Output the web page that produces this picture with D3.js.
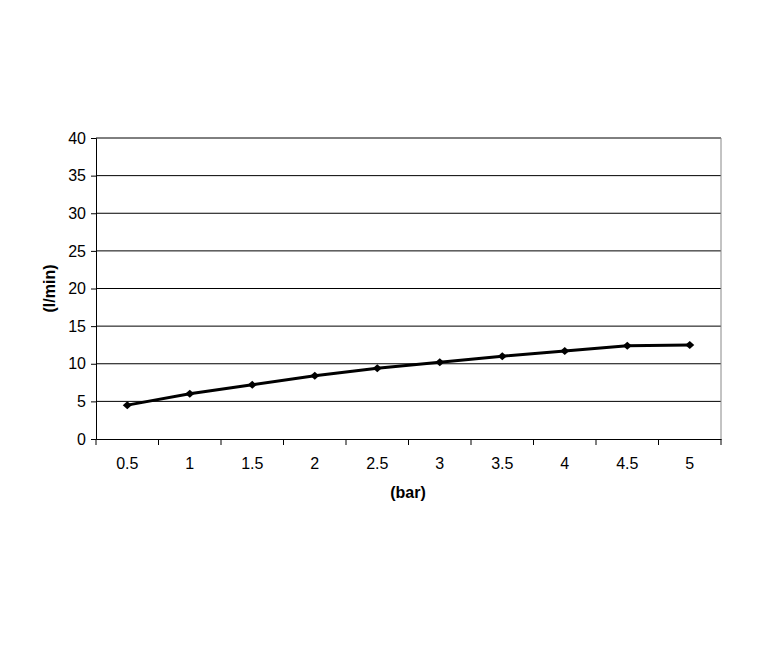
<!DOCTYPE html>
<html><head><meta charset="utf-8">
<script src="https://cdn.jsdelivr.net/npm/d3@7"></script>
<style>body{margin:0;background:#fff}</style></head>
<body><svg id="c" width="774" height="654"></svg>
<script>
const categories=["0.5","1","1.5","2","2.5","3","3.5","4","4.5","5"];
const values=[4.5,6.0,7.2,8.4,9.4,10.2,11.0,11.7,12.4,12.5];
const yTicks=[0,5,10,15,20,25,30,35,40];
const svg=d3.select("#c");
const L=96,R=721,T=138,B=439;
const x=d3.scaleBand().domain(categories).range([L,R]);
const y=d3.scaleLinear().domain([0,40]).range([B,T]);
const font="Liberation Sans, Arial, sans-serif";
svg.append("g").selectAll("line").data(yTicks.filter(d=>d>0)).join("line")
 .attr("x1",L).attr("x2",R).attr("y1",d=>y(d)).attr("y2",d=>y(d)).attr("stroke","#000").attr("stroke-width",1);
svg.append("line").attr("x1",R).attr("x2",R).attr("y1",T).attr("y2",B).attr("stroke","#888");
const ya=svg.append("g").attr("transform",`translate(${L},0)`).call(d3.axisLeft(y).tickValues(yTicks).tickSize(5).tickPadding(5));
ya.selectAll("text").attr("font-family",font).attr("font-size",16).attr("fill","#000");
ya.select(".domain").attr("stroke","#000");
const xa=svg.append("g").attr("transform",`translate(0,${B})`).call(d3.axisBottom(x).tickSize(0).tickPadding(19));
xa.selectAll("text").attr("font-family",font).attr("font-size",16).attr("fill","#000");
xa.select(".domain").attr("stroke","#000");
svg.append("g").selectAll("line").data(categories.concat(["end"])).join("line")
 .attr("x1",(d,i)=>i<categories.length?x(d):R).attr("x2",(d,i)=>i<categories.length?x(d):R)
 .attr("y1",B).attr("y2",B+6).attr("stroke","#000");
const line=d3.line().x((d,i)=>x(categories[i])+x.bandwidth()/2).y(d=>y(d));
svg.append("path").datum(values).attr("d",line).attr("fill","none").attr("stroke","#000").attr("stroke-width",3);
svg.append("g").selectAll("path").data(values).join("path")
 .attr("d","M-4.5,0L0,-4L4.5,0L0,4Z").attr("transform",(d,i)=>`translate(${x(categories[i])+x.bandwidth()/2},${y(d)})`).attr("fill","#000");
svg.append("text").attr("x",408).attr("y",498).attr("text-anchor","middle").attr("font-family",font).attr("font-weight","bold").attr("font-size",16).text("(bar)");
svg.append("text").attr("transform",`translate(55,${y(20)}) rotate(-90)`).attr("text-anchor","middle").attr("font-family",font).attr("font-weight","bold").attr("font-size",16).text("(l/min)");
</script></body></html>
